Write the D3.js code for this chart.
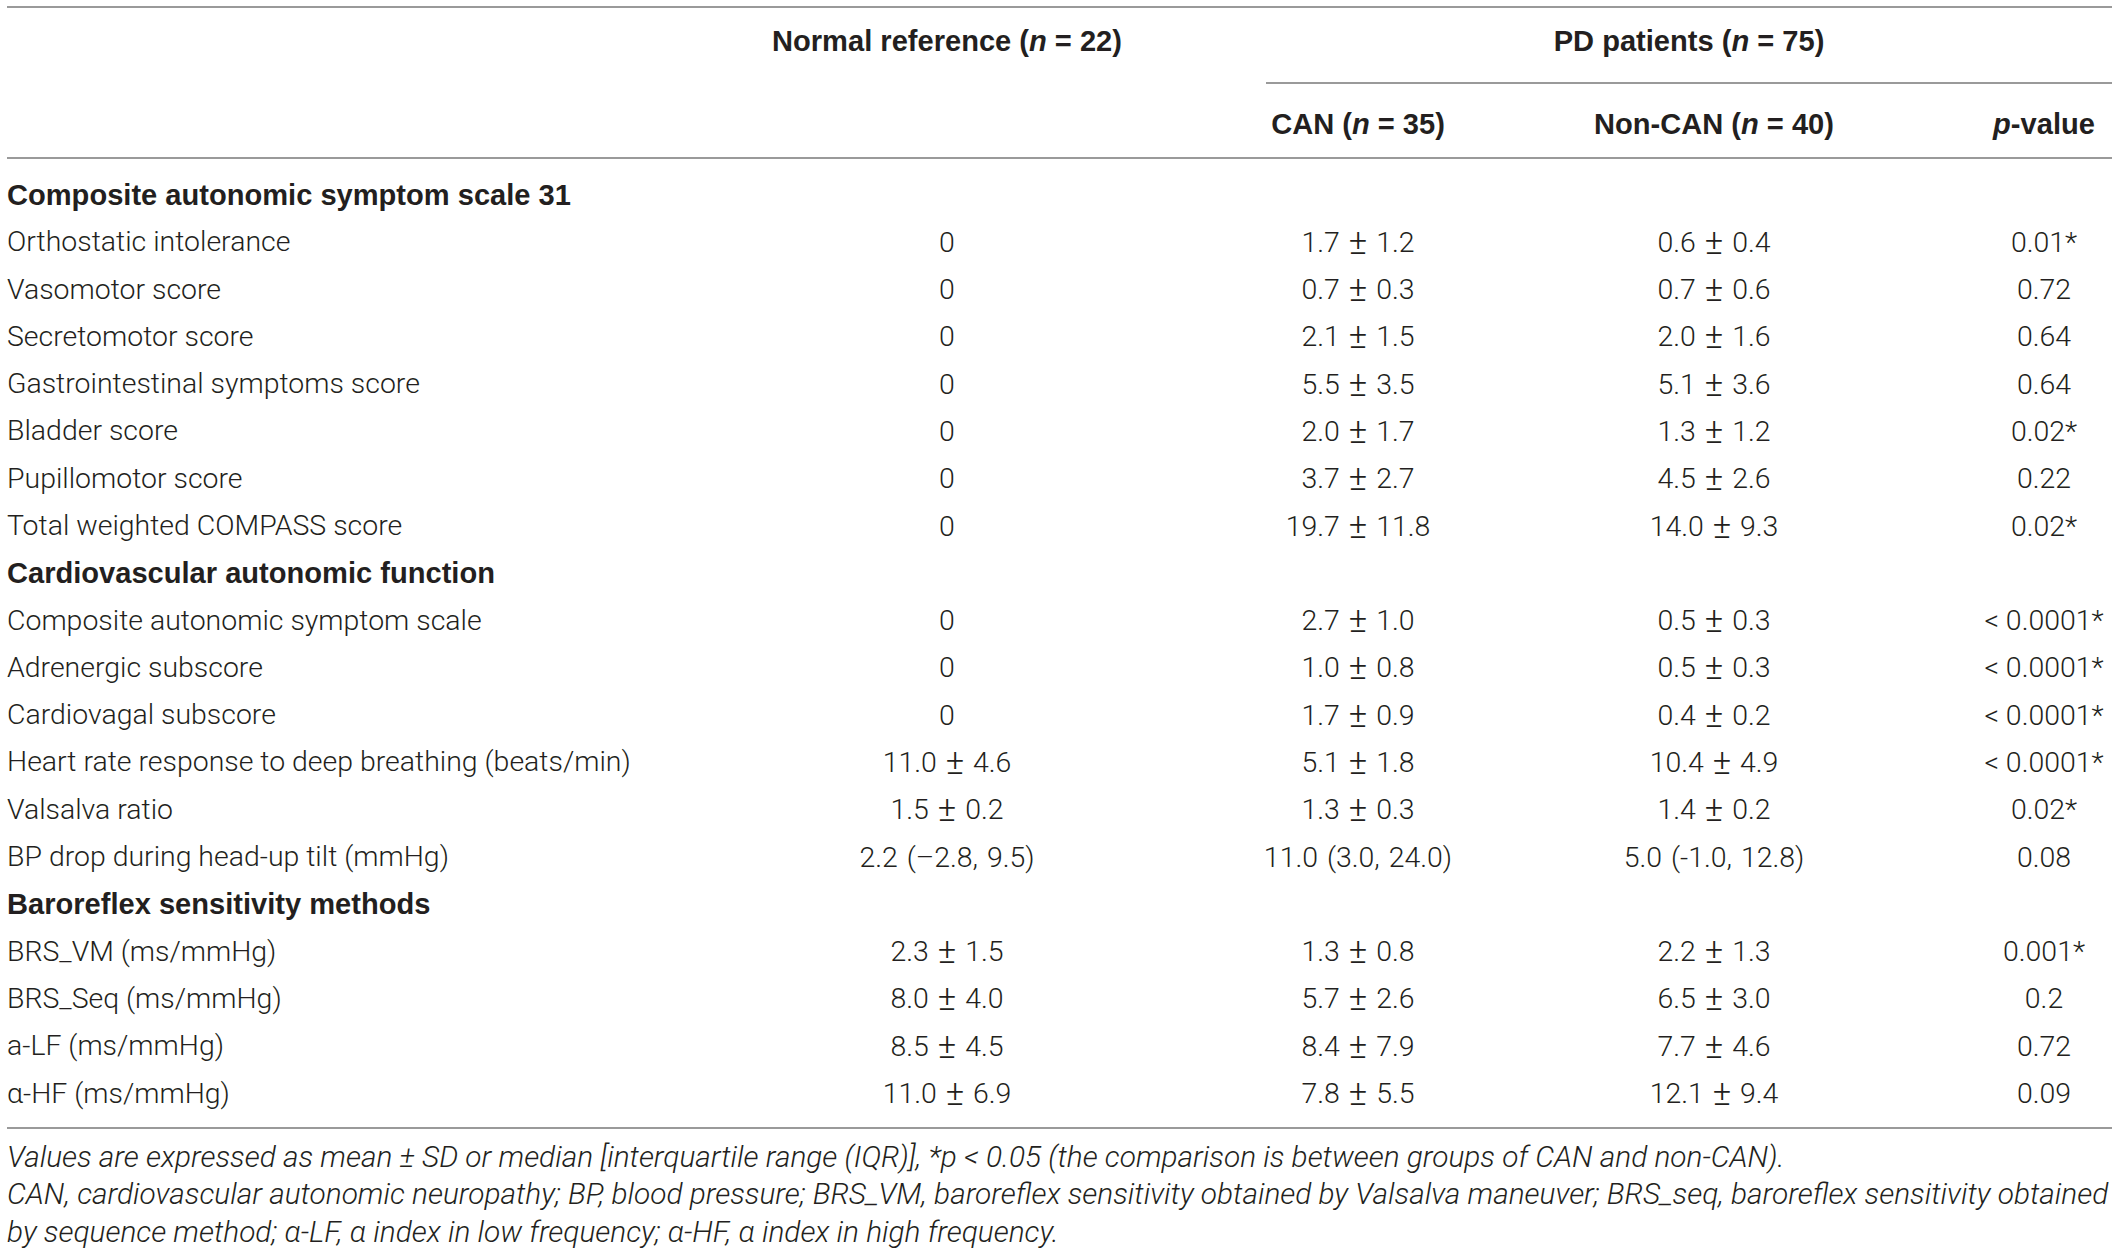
<!DOCTYPE html>
<html>
<head>
<meta charset="utf-8">
<script src="https://cdn.jsdelivr.net/npm/d3@7"></script>
<style>
  html, body { margin: 0; padding: 0; background: #fff; }
  svg text { fill: #231f20; }
  .light { font-family: Roboto, "Liberation Sans", sans-serif; font-weight: 300; }
  .bold { font-family: "Liberation Sans", Arial, sans-serif; font-weight: 700; }
</style>
</head>
<body>
<svg width="2118" height="1252"></svg>
<script>
// table rows: null value arrays mark section headings
var rowLabels = [
  "Composite autonomic symptom scale 31",
  "Orthostatic intolerance",
  "Vasomotor score",
  "Secretomotor score",
  "Gastrointestinal symptoms score",
  "Bladder score",
  "Pupillomotor score",
  "Total weighted COMPASS score",
  "Cardiovascular autonomic function",
  "Composite autonomic symptom scale",
  "Adrenergic subscore",
  "Cardiovagal subscore",
  "Heart rate response to deep breathing (beats/min)",
  "Valsalva ratio",
  "BP drop during head-up tilt (mmHg)",
  "Baroreflex sensitivity methods",
  "BRS_VM (ms/mmHg)",
  "BRS_Seq (ms/mmHg)",
  "a-LF (ms/mmHg)",
  "\u03b1-HF (ms/mmHg)"
];
var sectionRows = [0, 8, 15];

var normalVals = [null, "0", "0", "0", "0", "0", "0", "0",
  null, "0", "0", "0", "11.0 \u00b1 4.6", "1.5 \u00b1 0.2", "2.2 (\u20132.8, 9.5)",
  null, "2.3 \u00b1 1.5", "8.0 \u00b1 4.0", "8.5 \u00b1 4.5", "11.0 \u00b1 6.9"];
var canVals = [null, "1.7 \u00b1 1.2", "0.7 \u00b1 0.3", "2.1 \u00b1 1.5", "5.5 \u00b1 3.5", "2.0 \u00b1 1.7", "3.7 \u00b1 2.7", "19.7 \u00b1 11.8",
  null, "2.7 \u00b1 1.0", "1.0 \u00b1 0.8", "1.7 \u00b1 0.9", "5.1 \u00b1 1.8", "1.3 \u00b1 0.3", "11.0 (3.0, 24.0)",
  null, "1.3 \u00b1 0.8", "5.7 \u00b1 2.6", "8.4 \u00b1 7.9", "7.8 \u00b1 5.5"];
var nonCanVals = [null, "0.6 \u00b1 0.4", "0.7 \u00b1 0.6", "2.0 \u00b1 1.6", "5.1 \u00b1 3.6", "1.3 \u00b1 1.2", "4.5 \u00b1 2.6", "14.0 \u00b1 9.3",
  null, "0.5 \u00b1 0.3", "0.5 \u00b1 0.3", "0.4 \u00b1 0.2", "10.4 \u00b1 4.9", "1.4 \u00b1 0.2", "5.0 (-1.0, 12.8)",
  null, "2.2 \u00b1 1.3", "6.5 \u00b1 3.0", "7.7 \u00b1 4.6", "12.1 \u00b1 9.4"];
var pVals = [null, "0.01*", "0.72", "0.64", "0.64", "0.02*", "0.22", "0.02*",
  null, "< 0.0001*", "< 0.0001*", "< 0.0001*", "< 0.0001*", "0.02*", "0.08",
  null, "0.001*", "0.2", "0.72", "0.09"];

// header pieces: [text, italic?]
var topHeaders = [
  { col: "normal", parts: [["Normal reference (", false], ["n", true], [" = 22)", false]] },
  { col: "pd", parts: [["PD patients (", false], ["n", true], [" = 75)", false]] }
];
var subHeaders = [
  { col: "can", parts: [["CAN (", false], ["n", true], [" = 35)", false]] },
  { col: "noncan", parts: [["Non-CAN (", false], ["n", true], [" = 40)", false]] },
  { col: "p", parts: [["p", true], ["-value", false]] }
];

var footnotes = [
  "Values are expressed as mean \u00b1 SD or median [interquartile range (IQR)], *p < 0.05 (the comparison is between groups of CAN and non-CAN).",
  "CAN, cardiovascular autonomic neuropathy; BP, blood pressure; BRS_VM, baroreflex sensitivity obtained by Valsalva maneuver; BRS_seq, baroreflex sensitivity obtained",
  "by sequence method; \u03b1-LF, \u03b1 index in low frequency; \u03b1-HF, \u03b1 index in high frequency."
];

var svg = d3.select("svg");
var lineColor = "#9a9a9a";

// pick a font size so a sample string gets the width seen in the picture
function fitSize(cls, italic, sample, target) {
  var t = svg.append("text")
    .attr("class", cls)
    .attr("font-size", 20)
    .attr("font-style", italic ? "italic" : "normal")
    .text(sample);
  var w = t.node().getComputedTextLength();
  t.remove();
  return 20 * target / w;
}
var bodySize = fitSize("light", false, rowLabels[12], 624);
var boldSize = fitSize("bold", false, rowLabels[0], 564);
var footSize = fitSize("light", true, footnotes[1], 2102);

var colX = d3.scaleOrdinal()
  .domain(["normal", "pd", "can", "noncan", "p"])
  .range([947, 1689, 1358, 1714, 2044]);

var rowY = d3.scaleLinear()
  .domain([0, rowLabels.length - 1])
  .range([194.5, 1093]);

// rules
var rules = [
  { x1: 7, x2: 2112, y: 7 },
  { x1: 1266, x2: 2112, y: 83 },
  { x1: 7, x2: 2112, y: 158 },
  { x1: 7, x2: 2112, y: 1128 }
];
svg.selectAll("line.rule")
  .data(rules)
  .enter()
  .append("line")
  .attr("class", "rule")
  .attr("x1", d => d.x1)
  .attr("x2", d => d.x2)
  .attr("y1", d => d.y)
  .attr("y2", d => d.y)
  .attr("stroke", lineColor)
  .attr("stroke-width", 2);

function drawHeader(list, y) {
  var t = svg.selectAll(null)
    .data(list)
    .enter()
    .append("text")
    .attr("class", "bold")
    .attr("x", d => colX(d.col))
    .attr("y", y)
    .attr("text-anchor", "middle")
    .attr("dominant-baseline", "central")
    .attr("font-size", boldSize);
  t.selectAll("tspan")
    .data(d => d.parts)
    .enter()
    .append("tspan")
    .attr("font-style", d => d[1] ? "italic" : "normal")
    .text(d => d[0]);
}
drawHeader(topHeaders, 41);
drawHeader(subHeaders, 124);

var rows = svg.selectAll("g.row")
  .data(rowLabels)
  .enter()
  .append("g")
  .attr("class", "row")
  .attr("transform", (d, i) => "translate(0," + rowY(i) + ")");

rows.append("text")
  .attr("class", (d, i) => sectionRows.indexOf(i) >= 0 ? "bold" : "light")
  .attr("x", 7)
  .attr("dominant-baseline", "central")
  .attr("font-size", (d, i) => sectionRows.indexOf(i) >= 0 ? boldSize : bodySize)
  .text(d => d);

// the plus-minus sign is drawn a bit larger, as in the source typeface
function splitPM(s) {
  var bits = s.split("\u00b1");
  if (bits.length < 2) return [[s, false]];
  return [[bits[0], false], ["\u00b1", true], [bits[1], false]];
}

var cols = [["normal", normalVals], ["can", canVals], ["noncan", nonCanVals], ["p", pVals]];
cols.forEach(function(c) {
  var cell = rows.filter((d, i) => c[1][i] !== null)
    .append("text")
    .attr("class", "light")
    .attr("x", colX(c[0]))
    .attr("text-anchor", "middle")
    .attr("dominant-baseline", "central")
    .attr("font-size", bodySize)
    .attr("word-spacing", c[0] == "p" ? 0 : 2);
  cell.selectAll("tspan")
    .data(d => splitPM(c[1][rowLabels.indexOf(d)]))
    .enter()
    .append("tspan")
    .attr("font-size", d => d[1] ? bodySize * 1.22 : null)
    .text(d => d[0]);
});

svg.selectAll("text.foot")
  .data(footnotes)
  .enter()
  .append("text")
  .attr("class", "light foot")
  .attr("x", 7)
  .attr("y", (d, i) => 1156 + i * 37.5)
  .attr("dominant-baseline", "central")
  .attr("font-size", footSize)
  .attr("font-style", "italic")
  .text(d => d);
</script>
</body>
</html>
